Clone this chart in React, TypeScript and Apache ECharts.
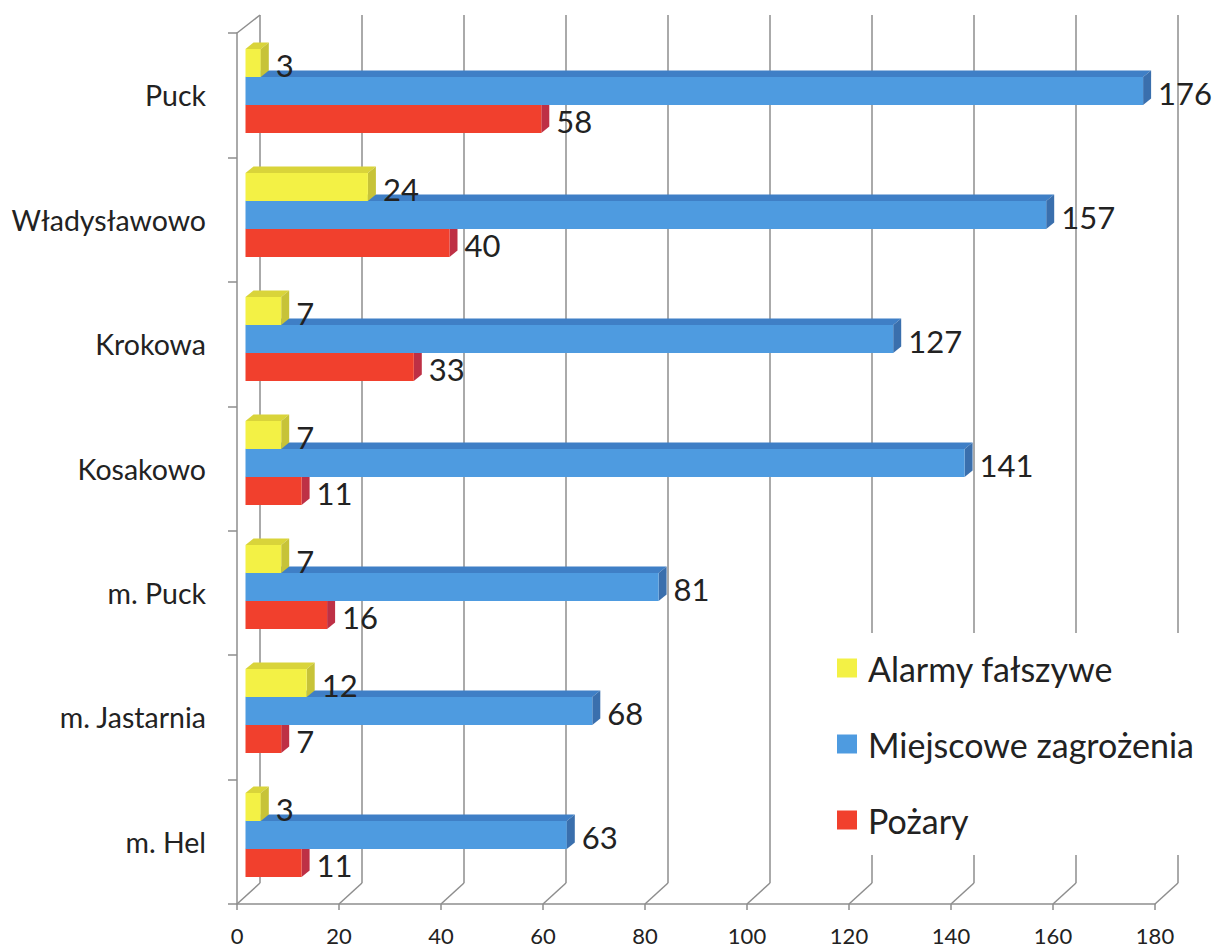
import React, { useEffect, useRef } from "react";
import * as echarts from "echarts";

const categories = ["Puck", "Władysławowo", "Krokowa", "Kosakowo", "m. Puck", "m. Jastarnia", "m. Hel"];
const alarmy = [3, 24, 7, 7, 7, 12, 3];
const miejscowe = [176, 157, 127, 141, 81, 68, 63];
const pozary = [58, 40, 33, 11, 16, 7, 11];
const xTicks = [0, 20, 40, 60, 80, 100, 120, 140, 160, 180];
const seriesNames = ["Alarmy fałszywe", "Miejscowe zagrożenia", "Pożary"];

const FONT = "Lato, 'Open Sans', sans-serif";
const BAR_H = 28;
const BAR_DX = 8;
const BAR_DY = -6.5;
const WALL_DX = 23;
const WALL_DY = -21;

const palettes = {
  yellow: { front: "#f3f145", top: "#d9d43a", side: "#c7c338" },
  blue: { front: "#4e9be0", top: "#3f7fc6", side: "#3a6fad" },
  red: { front: "#f1402d", top: "#d5372a", side: "#be3045" },
};

function barRenderer(offset: number, pal: { front: string; top: string; side: string }) {
  return (params: any, api: any) => {
    const val = api.value(0);
    const ci = api.value(1);
    const p0 = api.coord([0, ci]);
    const p1 = api.coord([val, ci]);
    const cy = p0[1] + offset * BAR_H;
    const x0 = p0[0];
    const x1 = p1[0];
    const y0 = cy - BAR_H / 2;
    const y1 = cy + BAR_H / 2;
    return {
      type: "group",
      children: [
        {
          type: "polygon",
          shape: { points: [[x0, y0], [x1, y0], [x1 + BAR_DX, y0 + BAR_DY], [x0 + BAR_DX, y0 + BAR_DY]] },
          style: { fill: pal.top },
        },
        {
          type: "polygon",
          shape: { points: [[x1, y0], [x1, y1], [x1 + BAR_DX, y1 + BAR_DY], [x1 + BAR_DX, y0 + BAR_DY]] },
          style: { fill: pal.side },
        },
        {
          type: "rect",
          shape: { x: x0, y: y0, width: x1 - x0, height: BAR_H },
          style: { fill: pal.front },
        },
        {
          type: "text",
          x: x1 + 15,
          y: cy + 2,
          style: {
            text: String(val),
            fontSize: 31,
            fontFamily: FONT,
            fill: "#222",
            verticalAlign: "middle",
            align: "left",
          },
        },
      ],
    };
  };
}

export default function App() {
  const ref = useRef<HTMLDivElement>(null);
  useEffect(() => {
    if (!ref.current) return;
    const chart = echarts.init(ref.current, null, { renderer: "svg" });
    const toData = (arr: number[]) => arr.map((v, i) => [v, i]);
    const option: any = {
      animation: false,
      backgroundColor: "#fff",
      grid: [
        { left: 245.5, top: 29, width: 918, height: 868 },
        { left: 237, top: 33, width: 918, height: 871 },
        { left: 260, top: 15, width: 918, height: 868 },
      ],
      xAxis: [
        { gridIndex: 0, type: "value", min: 0, max: 180, show: false },
        {
          gridIndex: 1,
          type: "value",
          min: 0,
          max: 180,
          interval: 20,
          axisLine: { show: true, lineStyle: { color: "#8e8e8e", width: 1.5 } },
          axisTick: { show: true, length: 6, lineStyle: { color: "#8e8e8e", width: 1.5 } },
          axisLabel: { fontSize: 22, fontFamily: FONT, color: "#222", margin: 20 },
          splitLine: { show: false },
        },
        {
          gridIndex: 2,
          type: "value",
          min: 0,
          max: 180,
          interval: 20,
          axisLine: { show: false },
          axisTick: { show: false },
          axisLabel: { show: false },
          splitLine: { show: true, lineStyle: { color: "#8e8e8e", width: 1.5 } },
        },
      ],
      yAxis: [
        { gridIndex: 0, type: "category", data: categories, inverse: true, show: false },
        {
          gridIndex: 1,
          type: "category",
          data: categories,
          inverse: true,
          axisLine: { show: true, lineStyle: { color: "#8e8e8e", width: 1.5 } },
          axisTick: { show: true, length: 9, lineStyle: { color: "#8e8e8e", width: 1.5 } },
          axisLabel: { fontSize: 28.5, fontFamily: FONT, color: "#222", margin: 31 },
          splitLine: { show: false },
        },
        { gridIndex: 2, type: "category", data: categories, inverse: true, show: false },
      ],
      legend: {
        orient: "vertical",
        left: 812,
        top: 633,
        padding: [15, 10, 15, 25],
        backgroundColor: "#fff",
        itemWidth: 20,
        itemHeight: 19,
        itemGap: 36,
        icon: "rect",
        textStyle: { fontSize: 34, fontFamily: FONT, color: "#222", lineHeight: 40, padding: [0, 0, 0, 6] },
        data: [
          { name: seriesNames[0], itemStyle: { color: palettes.yellow.front } },
          { name: seriesNames[1], itemStyle: { color: palettes.blue.front } },
          { name: seriesNames[2], itemStyle: { color: palettes.red.front } },
        ],
      },
      series: [
        {
          type: "custom",
          name: "walls",
          xAxisIndex: 1,
          yAxisIndex: 1,
          silent: true,
          data: xTicks.map((v) => [v, 0]),
          renderItem: (params: any, api: any) => {
            const cs = params.coordSys;
            const bottom = cs.y + cs.height;
            const x = api.coord([api.value(0), 0])[0];
            const children: any[] = [
              {
                type: "line",
                shape: { x1: x, y1: bottom, x2: x + WALL_DX, y2: bottom + WALL_DY },
                style: { stroke: "#8e8e8e", lineWidth: 1.5 },
              },
            ];
            if (params.dataIndex === 0) {
              children.push({
                type: "line",
                shape: { x1: cs.x, y1: cs.y, x2: cs.x + WALL_DX, y2: cs.y - 18 },
                style: { stroke: "#8e8e8e", lineWidth: 1.5 },
              });
            }
            return { type: "group", children };
          },
          z: 1,
        },
        {
          type: "custom",
          name: seriesNames[2],
          xAxisIndex: 0,
          yAxisIndex: 0,
          itemStyle: { color: palettes.red.front },
          data: toData(pozary),
          renderItem: barRenderer(1, palettes.red),
          z: 2,
        },
        {
          type: "custom",
          name: seriesNames[1],
          xAxisIndex: 0,
          yAxisIndex: 0,
          itemStyle: { color: palettes.blue.front },
          data: toData(miejscowe),
          renderItem: barRenderer(0, palettes.blue),
          z: 3,
        },
        {
          type: "custom",
          name: seriesNames[0],
          xAxisIndex: 0,
          yAxisIndex: 0,
          itemStyle: { color: palettes.yellow.front },
          data: toData(alarmy),
          renderItem: barRenderer(-1, palettes.yellow),
          z: 4,
        },
      ],
    };
    chart.setOption(option);
    return () => chart.dispose();
  }, []);
  return (
    <div
      ref={ref}
      style={{ position: "fixed", left: 0, top: 0, width: 1220, height: 951, background: "#fff" }}
    />
  );
}
